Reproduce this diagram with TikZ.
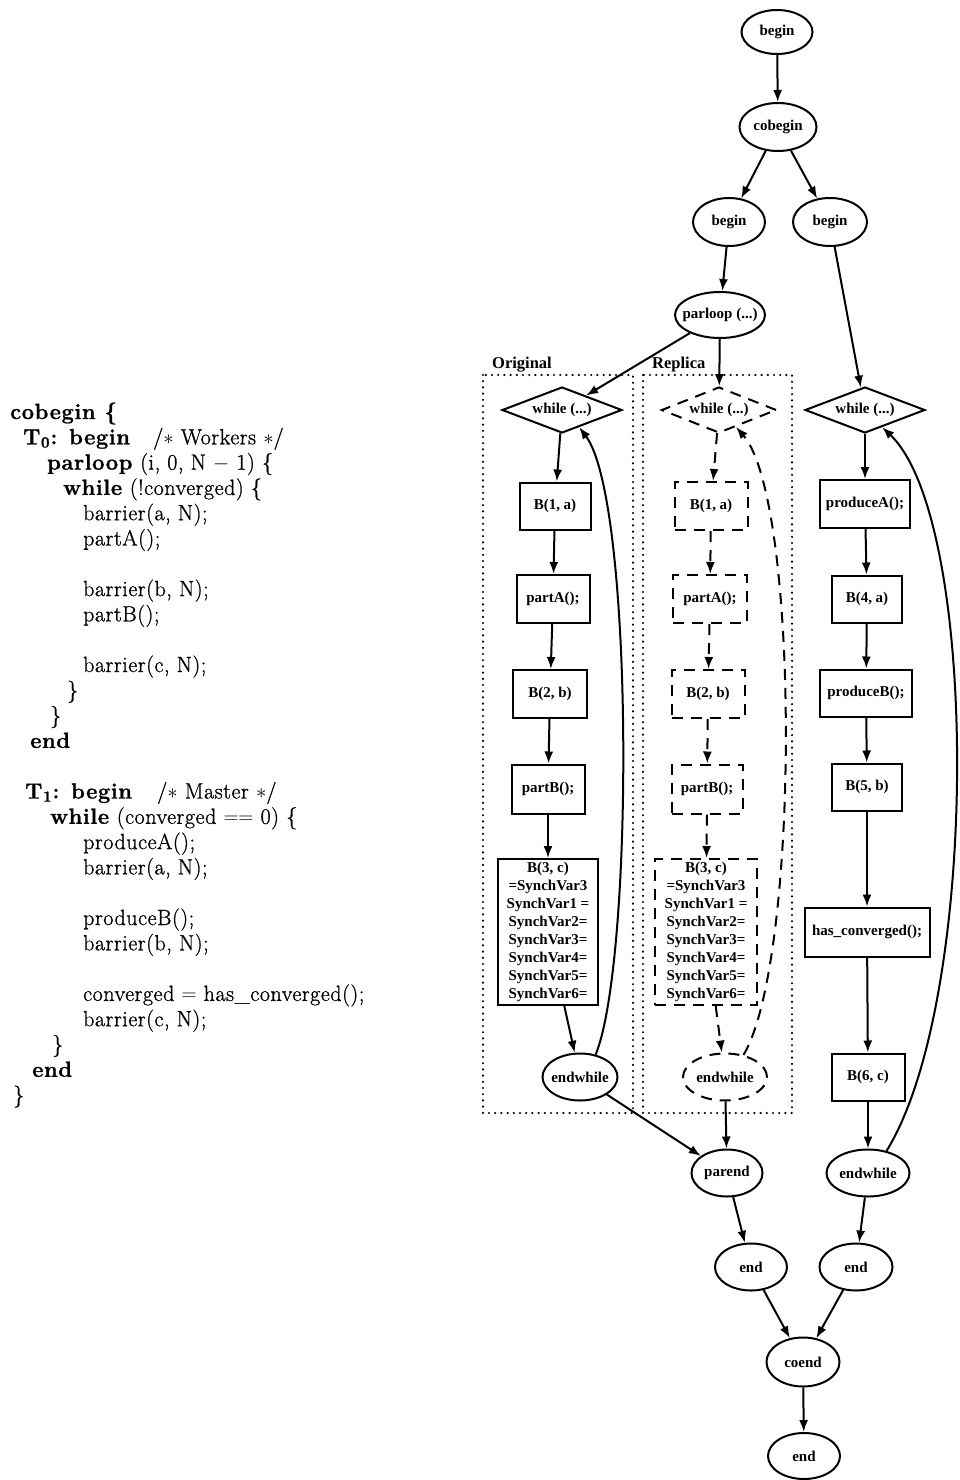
\documentclass[tikz,border=0pt]{standalone}
\usepackage{fontspec}
\usetikzlibrary{shapes.geometric,arrows.meta}
\newfontfamily\gfont{Liberation Serif}
\newfontfamily\codefont{Latin Modern Roman}[FakeBold=1.0,LetterSpace=2.5]
\newcommand{\zb}[1]{\makebox[0pt][c]{#1}}
\begin{document}
\begin{tikzpicture}[x=1pt,y=1pt,
  code/.style={anchor=base west, inner sep=0pt, font=\codefont\fontsize{22}{25}\selectfont},
  gnode/.style={draw, line width=2pt, inner sep=0pt, font=\gfont\bfseries\fontsize{15}{18}\selectfont},
  ell/.style={gnode, ellipse, minimum height=47pt},
  rbox/.style={gnode, rectangle, minimum height=48pt},
  dia/.style={gnode, diamond, minimum height=46pt},
  dsh/.style={dash pattern=on 11pt off 8pt},
  arr/.style={-{Latex[length=12pt,width=9pt]}, line width=2pt},
  dots/.style={line width=2.4pt, line cap=round, dash pattern=on 0pt off 6.2pt},
  lbl/.style={anchor=base west, inner sep=0pt, font=\gfont\bfseries\fontsize{16.5}{18}\selectfont}
]
\useasboundingbox (0,0) rectangle (960,-1480);

% ---------- code listing ----------
\node[code] (l0)  at (10,-419.0) {\textbf{cobegin \{}};
\node[code] (l1)  at (23,-444.3) {\textbf{T}\textsubscript{\textbf{0}}\textbf{: begin}};
\node[code] (l1c) at (153,-444.3) {/$\ast$ Workers $\ast$/};
\node[code] (l2)  at (47,-469.6) {\textbf{parloop} (i, 0, N $-$ 1) \{};
\node[code] (l3)  at (63,-494.9) {\textbf{while} (!converged) \{};
\node[code] (l4)  at (83,-520.2) {barrier(a, N);};
\node[code] (l5)  at (83,-545.5) {partA();};
\node[code] (l7)  at (83,-596.1) {barrier(b, N);};
\node[code] (l8)  at (83,-621.4) {partB();};
\node[code] (l10) at (83,-672.0) {barrier(c, N);};
\node[code] (l11) at (67,-697.3) {\}};
\node[code] (l12) at (50,-722.6) {\}};
\node[code] (l13) at (30,-747.9) {\textbf{end}};
\node[code] (l15) at (25,-798.5) {\textbf{T}\textsubscript{\textbf{1}}\textbf{: begin}};
\node[code] (l15c) at (157,-798.5) {/$\ast$ Master $\ast$/};
\node[code] (l16) at (50,-823.8) {\textbf{while} (converged $==$ 0) \{};
\node[code] (l17) at (83,-849.1) {produceA();};
\node[code] (l18) at (83,-874.4) {barrier(a, N);};
\node[code] (l20) at (83,-925.0) {produceB();};
\node[code] (l21) at (83,-950.3) {barrier(b, N);};
\node[code] (l23) at (83,-1000.9) {converged $=$ has\_converged();};
\node[code] (l24) at (83,-1026.2) {barrier(c, N);};
\node[code] (l25) at (52,-1051.5) {\}};
\node[code] (l26) at (32,-1076.8) {\textbf{end}};
\node[code] (l27) at (13,-1102.1) {\}};

% ---------- dotted groups ----------
\draw[dots] (483,-375) rectangle (633,-1113);
\draw[dots] (643,-375) rectangle (792,-1113);
\node[lbl] (orig) at (492,-368) {Original};
\node[lbl] (repl) at (652,-368) {Replica};

% ---------- top ----------
\node[ell, minimum width=71pt, minimum height=44pt] (b0) at (777,-32) {\zb{begin}};
\node[ell, minimum width=77pt, minimum height=48pt] (cob) at (778,-127) {\zb{cobegin}};
\node[ell, minimum width=72pt, minimum height=48pt] (bL) at (729,-222) {\zb{begin}};
\node[ell, minimum width=74pt, minimum height=48pt] (bR) at (830,-222) {\zb{begin}};
\node[ell, minimum width=90pt, minimum height=46pt] (par) at (720,-315) {\zb{parloop (...)}};

% ---------- original ----------
\node[dia, minimum width=120pt] (ow) at (562,-410) {\zb{while (...)}};
\node[rbox, minimum width=71pt, minimum height=47pt] (ob1) at (555,-506) {\zb{B(1, a)}};
\node[rbox, minimum width=73pt] (opA) at (553,-599) {\zb{partA();}};
\node[rbox, minimum width=74pt] (ob2) at (550,-694) {\zb{B(2, b)}};
\node[rbox, minimum width=73pt, minimum height=49pt] (opB) at (548,-789) {\zb{partB();}};
\node[rbox, minimum width=100pt, minimum height=146pt, align=center] (ob3) at (548,-932)
  {B(3, c)\\=SynchVar3\\SynchVar1 =\\SynchVar2=\\SynchVar3=\\SynchVar4=\\SynchVar5=\\SynchVar6=};
\node[ell, minimum width=75pt] (oe) at (580,-1077) {\zb{endwhile}};

% ---------- replica ----------
\node[dia, dsh, minimum width=115pt] (rw) at (719,-410) {\zb{while (...)}};
\node[rbox, dsh, minimum width=73pt] (rb1) at (711,-506) {\zb{B(1, a)}};
\node[rbox, dsh, minimum width=74pt] (rpA) at (710,-599) {\zb{partA();}};
\node[rbox, dsh, minimum width=73pt] (rb2) at (708,-694) {\zb{B(2, b)}};
\node[rbox, dsh, minimum width=71pt, minimum height=49pt] (rpB) at (707,-789) {\zb{partB();}};
\node[rbox, dsh, minimum width=102pt, minimum height=146pt, align=center] (rb3) at (706,-932)
  {B(3, c)\\=SynchVar3\\SynchVar1 =\\SynchVar2=\\SynchVar3=\\SynchVar4=\\SynchVar5=\\SynchVar6=};
\node[ell, dsh, minimum width=84pt] (re) at (725,-1077) {\zb{endwhile}};

% ---------- master ----------
\node[dia, minimum width=120pt] (mw) at (865,-410) {\zb{while (...)}};
\node[rbox, minimum width=90pt] (mpA) at (865,-504) {\zb{produceA();}};
\node[rbox, minimum width=70pt, minimum height=47pt] (mb4) at (867,-599) {\zb{B(4, a)}};
\node[rbox, minimum width=92pt, minimum height=47pt] (mpB) at (866,-693) {\zb{produceB();}};
\node[rbox, minimum width=70pt, minimum height=47pt] (mb5) at (867,-787) {\zb{B(5, b)}};
\node[rbox, minimum width=125pt, minimum height=49pt] (mhc) at (867,-932) {\zb{has\_converged();}};
\node[rbox, minimum width=73pt, minimum height=47pt] (mb6) at (868,-1077) {\zb{B(6, c)}};
\node[ell, minimum width=83pt] (me) at (868,-1173) {\zb{endwhile}};

% ---------- bottom ----------
\node[ell, minimum width=71pt] (pe) at (727,-1173) {\zb{parend}};
\node[ell, minimum width=72pt] (eL) at (751,-1267) {\zb{end}};
\node[ell, minimum width=73pt] (eR) at (856,-1267) {\zb{end}};
\node[ell, minimum width=73pt, minimum height=49pt] (ce) at (803,-1362) {\zb{coend}};
\node[ell, minimum width=72pt, minimum height=46pt] (ef) at (804,-1456) {\zb{end}};

% ---------- edges ----------
\draw[arr] (b0) -- (cob);
\draw[arr] (cob) -- (bL);
\draw[arr] (cob) -- (bR);
\draw[arr] (bL) -- (par);
\draw[arr] (par) -- (ow);
\draw[arr] (par) -- (rw);
\draw[arr] (bR) -- (mw);

\draw[arr] (ow) -- (ob1);
\draw[arr] (ob1) -- (opA);
\draw[arr] (opA) -- (ob2);
\draw[arr] (ob2) -- (opB);
\draw[arr] (opB) -- (ob3);
\draw[arr] (ob3) -- (oe);
\draw[arr] (oe.55) .. controls (634,-960) and (634,-500) .. (ow.-45);

\draw[arr,dsh] (rw) -- (rb1);
\draw[arr,dsh] (rb1) -- (rpA);
\draw[arr,dsh] (rpA) -- (rb2);
\draw[arr,dsh] (rb2) -- (rpB);
\draw[arr,dsh] (rpB) -- (rb3);
\draw[arr,dsh] (rb3) -- (re);
\draw[arr,dsh] (re.50) .. controls (800,-960) and (800,-500) .. (rw.-45);

\draw[arr] (mw) -- (mpA);
\draw[arr] (mpA) -- (mb4);
\draw[arr] (mb4) -- (mpB);
\draw[arr] (mpB) -- (mb5);
\draw[arr] (mb5) -- (mhc);
\draw[arr] (mhc) -- (mb6);
\draw[arr] (mb6) -- (me);
\draw[arr] (me.50) .. controls (980,-1000) and (980,-520) .. (mw.-45);

\draw[arr] (oe) -- (pe);
\draw[arr] (re) -- (pe);
\draw[arr] (me) -- (eR);
\draw[arr] (pe) -- (eL);
\draw[arr] (eL) -- (ce);
\draw[arr] (eR) -- (ce);
\draw[arr] (ce) -- (ef);
\end{tikzpicture}
\end{document}
